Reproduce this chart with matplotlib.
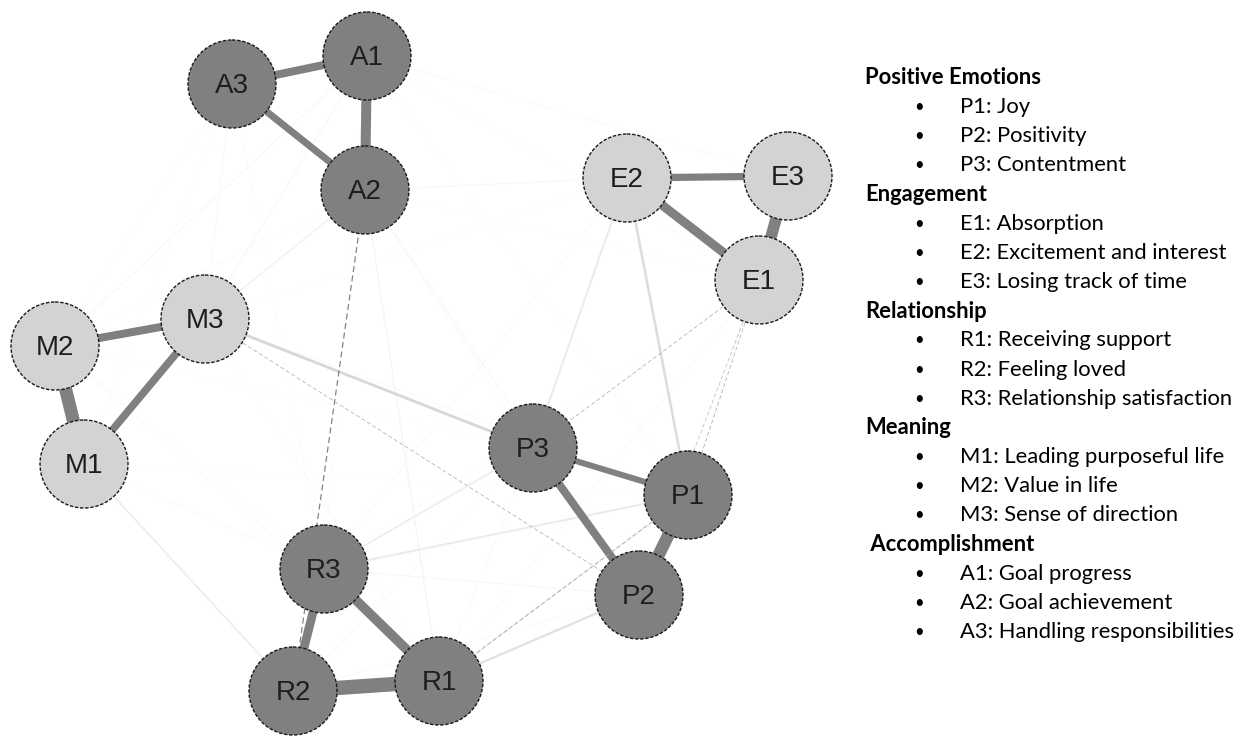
import matplotlib.pyplot as plt
from matplotlib.patches import Circle

# Knoten: Name, Position (Pixel), Gruppe
nodes = ['A1', 'A2', 'A3', 'E1', 'E2', 'E3', 'M1', 'M2', 'M3',
         'P1', 'P2', 'P3', 'R1', 'R2', 'R3']
node_x = [367, 365, 232, 759, 627, 788, 84, 55, 205,
          688, 639, 533, 439, 293, 324]
node_y = [56, 190, 84, 280, 178, 176, 464, 346, 319,
          495, 595, 448, 681, 691, 569]
node_dark = [True, True, True, False, False, False, False, False, False,
             True, True, True, True, True, True]

# Kanten (Partialkorrelationen), negativ = gestrichelt
edge_from = ['A1', 'A1', 'A3', 'E2', 'E2', 'E3', 'M2', 'M2', 'M3',
             'P3', 'P3', 'P1', 'R3', 'R3', 'R2',
             'A1', 'A1', 'A1', 'A1', 'A1', 'A1',
             'A3', 'A3', 'A3', 'A3',
             'A2', 'A2', 'A2', 'A2', 'A2', 'A2', 'A2',
             'M3', 'M3', 'M3',
             'M1', 'M1', 'M1', 'M2', 'M2', 'M2',
             'E2', 'E2', 'E2', 'E2',
             'E3', 'E1', 'E1',
             'P3', 'P1', 'P2', 'P1', 'P3', 'P2', 'P2', 'P3',
             'A2', 'M3', 'E1', 'E1', 'E1', 'R1']
edge_to = ['A3', 'A2', 'A2', 'E3', 'E1', 'E1', 'M3', 'M1', 'M1',
           'P1', 'P2', 'P2', 'R2', 'R1', 'R1',
           'M2', 'M3', 'E3', 'E1', 'P1', 'R3',
           'M2', 'M1', 'R3', 'M3',
           'M3', 'M2', 'E2', 'P2', 'R1', 'P3', 'E1',
           'P3', 'R1', 'P1',
           'R2', 'R3', 'P1', 'R3', 'P3', 'R1',
           'P3', 'P1', 'R3', 'M3',
           'P1', 'R1', 'R3',
           'R3', 'R3', 'R1', 'R1', 'R2', 'R3', 'R2', 'R1',
           'R2', 'P2', 'P3', 'P1', 'P2', 'P1']
edge_w = [0.40, 0.50, 0.35, 0.36, 0.45, 0.58, 0.40, 0.65, 0.38,
          0.30, 0.40, 0.62, 0.44, 0.48, 0.72,
          0.06, 0.06, 0.05, 0.04, 0.04, 0.04,
          0.05, 0.04, 0.04, 0.05,
          0.08, 0.05, 0.06, 0.06, 0.07, 0.05, 0.04,
          0.14, 0.05, 0.05,
          0.09, 0.05, 0.04, 0.04, 0.04, 0.05,
          0.10, 0.13, 0.05, 0.04,
          0.05, 0.05, 0.04,
          0.09, 0.10, 0.12, 0.08, 0.05, 0.06, 0.05, 0.05,
          -0.10, -0.06, -0.06, -0.06, -0.05, -0.07]

# Legende
groups = ['Positive Emotions', 'Engagement', 'Relationship', 'Meaning', ' Accomplishment']
items = [['P1: Joy', 'P2: Positivity', 'P3: Contentment'],
         ['E1: Absorption', 'E2: Excitement and interest', 'E3: Losing track of time'],
         ['R1: Receiving support', 'R2: Feeling loved', 'R3: Relationship satisfaction'],
         ['M1: Leading purposeful life', 'M2: Value in life', 'M3: Sense of direction'],
         ['A1: Goal progress', 'A2: Goal achievement', 'A3: Handling responsibilities']]

pos = {n: (x, y) for n, x, y in zip(nodes, node_x, node_y)}
cut = 0.25
r = 44
lfont = ['Lato', 'DejaVu Sans']

fig = plt.figure(figsize=(12.51, 7.36), dpi=100)
ax = fig.add_axes([0, 0, 1, 1])
ax.set_xlim(0, 1251)
ax.set_ylim(736, 0)
ax.axis('off')

# schwache Kanten zuerst zeichnen
order = sorted(range(len(edge_w)), key=lambda i: abs(edge_w[i]))
for i in order:
    w = edge_w[i]
    x0, y0 = pos[edge_from[i]]
    x1, y1 = pos[edge_to[i]]
    if w > 0:
        g = 1 - 0.5*min(1, w/cut)**2.0
        lw = max(1.0, 20*w)*0.72
        ax.plot([x0, x1], [y0, y1], color=str(g), lw=lw,
                solid_capstyle='butt', zorder=1 + w)
    else:
        g = 1 - 0.5*min(1, -w/0.1)
        lw = max(0.8, -12*w)*0.72
        ax.plot([x0, x1], [y0, y1], color=str(g), lw=lw,
                ls=(0, (5, 3)), zorder=1.5)

for n, x, y, d in zip(nodes, node_x, node_y, node_dark):
    ax.add_patch(Circle((x, y), r, facecolor='#808080' if d else '#d3d3d3',
                        edgecolor='#1a1a1a', lw=1.0, ls=(0, (2.5, 1.2)),
                        zorder=5))
    ax.text(x, y + 2, n, ha='center', va='center', fontsize=20,
            family='Liberation Sans', color='#1e1e1e', zorder=6)

y = 78
dy = 29.16
for g, its in zip(groups, items):
    ax.text(865, y, g, fontsize=15.8, fontweight='bold', family=lfont,
            va='center', ha='left')
    y += dy
    for t in its:
        ax.text(914, y, '•', fontsize=12, family=lfont,
                va='center', ha='left')
        ax.text(960, y, t, fontsize=15.8, family=lfont,
                va='center', ha='left')
        y += dy

plt.savefig('out.png', dpi=100)
plt.close()
